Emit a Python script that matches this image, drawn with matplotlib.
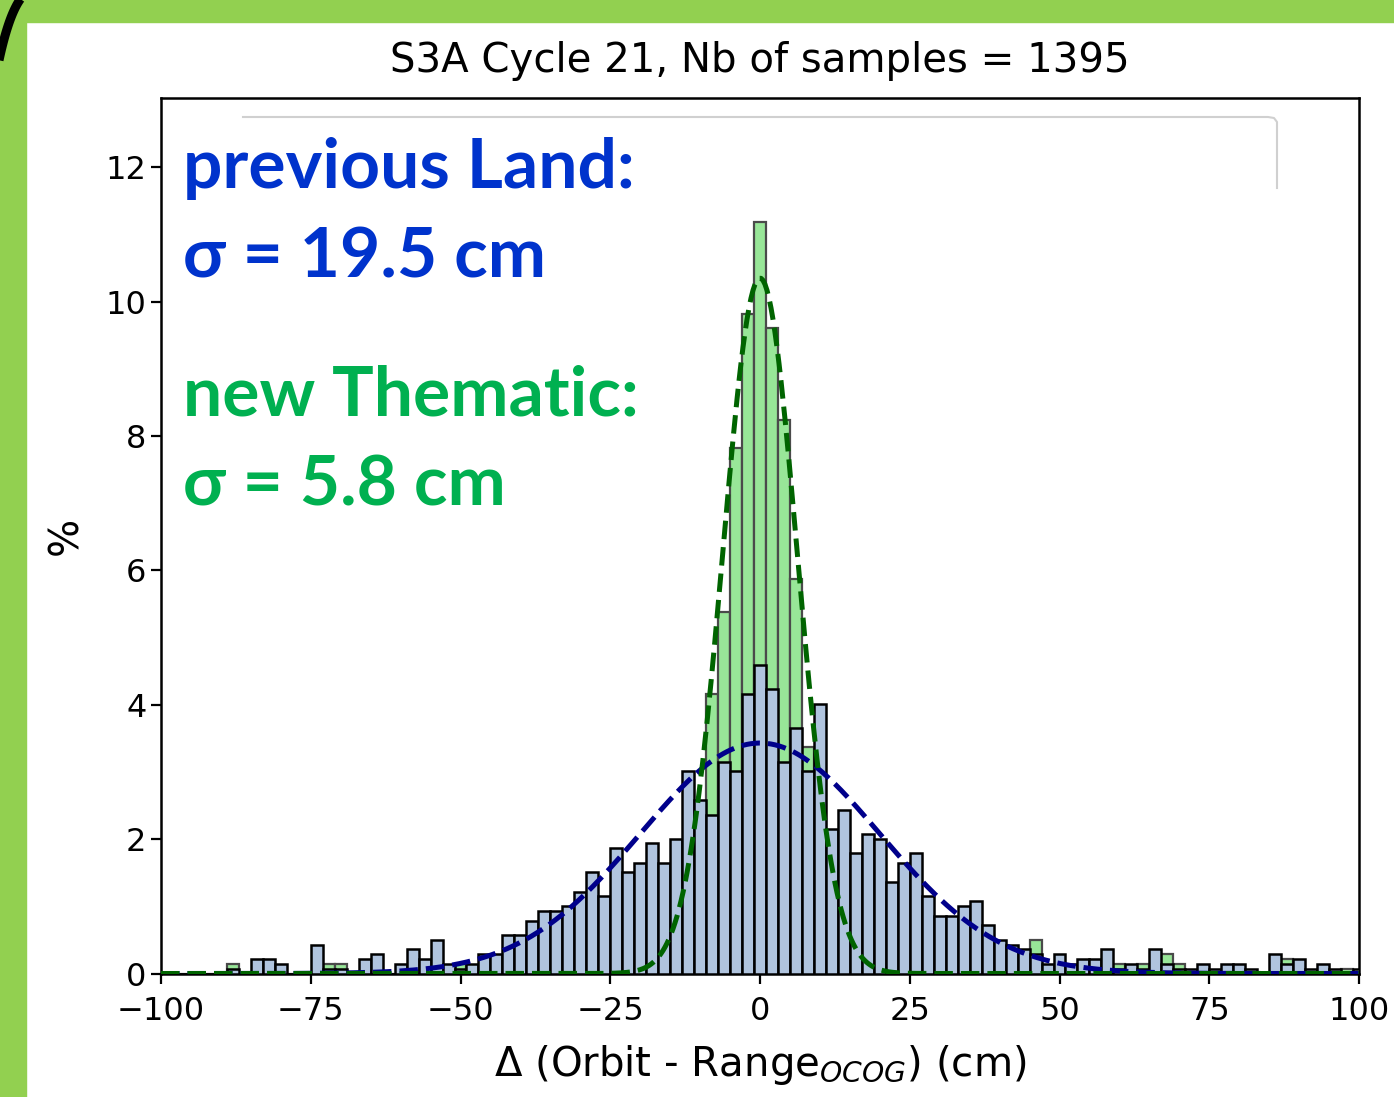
import numpy as np
import matplotlib
matplotlib.use("Agg")
import matplotlib.pyplot as plt
from matplotlib.patches import Rectangle
from matplotlib.lines import Line2D

# histogram data (counts per 2 cm bin, centres -100..100)
n_samples = 1395
bin_centres = np.arange(-100, 101, 2)

counts_land = [
    0, 0, 0, 0, 0, 0, 1, 0, 3, 3,          # -100 .. -82
    2, 0, 0, 6, 1, 1, 0, 3, 4, 0,          # -80 .. -62
    2, 5, 3, 7, 2, 1, 2, 4, 4, 8,          # -60 .. -42
    8, 11, 13, 13, 14, 17, 21, 16, 26, 21,  # -40 .. -22
    23, 27, 23, 28, 42, 36, 33, 44, 42, 58,  # -20 .. -2
    64,                                     # 0
    59, 44, 51, 42, 56, 30, 34, 25, 29, 28,  # 2 .. 20
    19, 23, 25, 16, 12, 12, 14, 15, 10, 7,   # 22 .. 40
    6, 5, 4, 2, 4, 2, 3, 3, 5, 1,          # 42 .. 60
    2, 1, 5, 2, 1, 1, 2, 1, 2, 2,          # 62 .. 80
    1, 0, 4, 2, 3, 1, 2, 1, 0, 1,          # 82 .. 100
]

counts_thematic = [
    0, 0, 0, 0, 0, 0, 2, 0, 0, 0,          # -100 .. -82
    0, 0, 0, 0, 2, 2, 0, 0, 0, 0,          # -80 .. -62
    0, 0, 0, 0, 0, 2, 1, 0, 0, 0,          # -60 .. -42
    0, 0, 0, 0, 0, 0, 0, 0, 0, 0,          # -40 .. -22
    1, 1, 3, 7, 15, 30, 58, 75, 109, 137,    # -20 .. -2
    156,                                    # 0
    134, 115, 82, 47, 32, 16, 7, 3, 1, 1,    # 2 .. 20
    0, 0, 0, 0, 0, 0, 0, 0, 0, 0,          # 22 .. 40
    0, 0, 7, 0, 0, 0, 0, 0, 0, 2,          # 42 .. 60
    0, 2, 0, 4, 2, 0, 0, 0, 0, 0,          # 62 .. 80
    0, 0, 0, 3, 0, 0, 0, 0, 1, 0,          # 82 .. 100
]

# gaussian fits drawn on the figure (amplitude %, mean cm, sigma cm)
fit_land = (3.43, 0.0, 20.0)
fit_thematic = (10.35, 0.0, 6.2)

title = "S3A Cycle 21, Nb of samples = 1395"
xlabel = r"Δ (Orbit - Range$_{OCOG}$) (cm)"
xticks = [-100, -75, -50, -25, 0, 25, 50, 75, 100]
yticks = [0, 2, 4, 6, 8, 10, 12]

W, H = 1394, 1097
fig = plt.figure(figsize=(W / 100, H / 100), dpi=100)

# green slide frame
fig.patches.append(Rectangle((0, 1 - 22 / H), 1, 22 / H, transform=fig.transFigure,
                             color="#92D050", zorder=0))
fig.patches.append(Rectangle((0, 0), 26 / W, 1, transform=fig.transFigure,
                             color="#92D050", zorder=0))
# bit of a black outline at the top-left corner (quadratic curve)
t = np.linspace(0, 1, 40)
arc_x = (1 - t) ** 2 * 22 + 2 * (1 - t) * t * 8 + t ** 2 * (-3)
arc_y = (1 - t) ** 2 * (-3) + 2 * (1 - t) * t * 14 + t ** 2 * 70
fig.add_artist(Line2D(arc_x / W, 1 - arc_y / H, color="black", lw=6.5,
                      solid_capstyle="butt", transform=fig.transFigure))

ax = fig.add_axes([161 / W, 1 - 973.5 / H, (1359 - 161) / W, (973.5 - 98) / H])

edges = np.arange(-101, 102, 2)
pct_them = np.array(counts_thematic) * 100.0 / n_samples
pct_land = np.array(counts_land) * 100.0 / n_samples
ax.hist(bin_centres, bins=edges, weights=pct_them, color="#98E698",
        edgecolor="#4a4a4a", linewidth=1.6, zorder=2)
ax.hist(bin_centres, bins=edges, weights=pct_land, color="lightsteelblue",
        edgecolor="black", linewidth=1.8, zorder=3)

xx = np.linspace(-100, 100, 600)
for (a, m, s), c in [(fit_land, "darkblue"), (fit_thematic, "darkgreen")]:
    ax.plot(xx, a * np.exp(-(xx - m) ** 2 / (2 * s ** 2)), "--", color=c,
            lw=3.6, zorder=4)

ax.set_xlim(-100, 100)
ax.set_ylim(0, 13.03)
ax.set_xticks(xticks)
ax.set_yticks(yticks)
ax.tick_params(labelsize=23, length=7, width=1.6)
ax.tick_params(axis="x", pad=9)
for sp in ax.spines.values():
    sp.set_linewidth(1.8)
ax.set_title(title, fontsize=29, pad=19)
ax.set_xlabel(xlabel, fontsize=29, labelpad=12)
ax.set_ylabel("%", fontsize=29, labelpad=14)

# remains of the legend frame, mostly hidden behind the annotation
ax.add_line(Line2D(np.array([243, 1268, 1274, 1277, 1277]) / W,
                   1 - np.array([117, 117, 118, 122, 188]) / H,
                   color="#d0d0d0", lw=1.5, transform=fig.transFigure, zorder=5))

fam = ["Lato", "Open Sans", "DejaVu Sans"]
fs = 50
fig.text(183 / W, 1 - 188 / H, "previous Land:", color="#0033CC", fontsize=fs,
         fontweight="bold", family=fam, va="baseline")
fig.text(183 / W, 1 - 278 / H, "σ = 19.5 cm", color="#0033CC", fontsize=fs,
         fontweight="bold", family=fam, va="baseline")
fig.text(183 / W, 1 - 415 / H, "new Thematic:", color="#00B050", fontsize=fs,
         fontweight="bold", family=fam, va="baseline")
fig.text(183 / W, 1 - 505 / H, "σ = 5.8 cm", color="#00B050", fontsize=fs,
         fontweight="bold", family=fam, va="baseline")

fig.savefig("out.png", dpi=100)
